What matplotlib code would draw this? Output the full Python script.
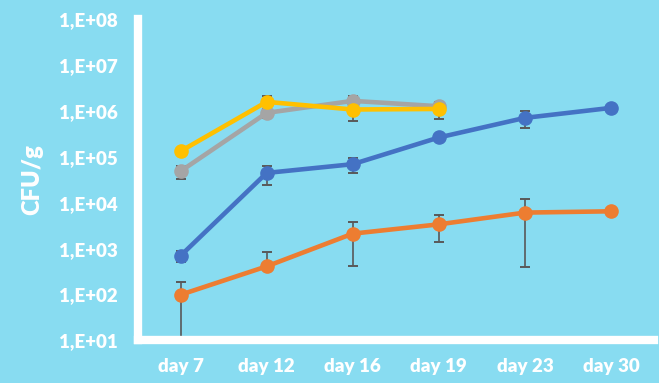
import numpy as np
import matplotlib.pyplot as plt

# sampling days and CFU/g counts per series (means and error)
days = ["day 7", "day 12", "day 16", "day 19", "day 23", "day 30"]

blue_vals = [700, 44500, 69000, 263000, 703000, 1160000]
blue_err = [180, 20000, 25000, 0, 290000, 0]

orange_vals = [99, 411, 2120, 3380, 6090, 6500]
orange_err = [89, 450, 1700, 1970, 5700, 0]

gray_vals = [48400, 903000, 1650000, 1260000]
gray_err = [15500, 200000, 440000, 300000]

yellow_vals = [132000, 1570000, 1070000, 1100000]
yellow_err = [0, 500000, 470000, 430000]

ytick_vals = [1e1, 1e2, 1e3, 1e4, 1e5, 1e6, 1e7, 1e8]
ytick_labels = ["1,E+01", "1,E+02", "1,E+03", "1,E+04",
                "1,E+05", "1,E+06", "1,E+07", "1,E+08"]

bg = "#88dcf1"
series = [
    (blue_vals, blue_err, "#4472c4"),
    (orange_vals, orange_err, "#ed7d31"),
    (gray_vals, gray_err, "#a5a5a5"),
    (yellow_vals, yellow_err, "#ffc000"),
]

plt.rcParams["font.family"] = ["Lato", "DejaVu Sans"]

fig = plt.figure(figsize=(6.59, 3.83), dpi=100)
fig.patch.set_facecolor(bg)
ax = fig.add_axes([0.2087, 0.111, 0.7837, 0.8394])
ax.set_facecolor(bg)
ax.set_yscale("log")

for i, (vals, err, color) in enumerate(series):
    vals = np.array(vals, dtype=float)
    err = np.array(err, dtype=float)
    x = np.arange(len(vals))
    # lower bars that would go below zero are not drawn on a log axis
    lower = np.where(err < vals, err, 0)
    ax.errorbar(x, vals, yerr=[lower, err], fmt="none", ecolor="#595959",
                elinewidth=1.2, capsize=3.6, capthick=1.4, zorder=1)
    ax.plot(x, vals, color=color, lw=3.3, marker="o", ms=9.5,
            solid_capstyle="round", zorder=2 + i)

ax.set_xlim(-0.5, 5.5)
ax.set_ylim(1e1, 1e8)
ax.set_xticks(range(len(days)))
ax.set_xticklabels(days)
ax.set_yticks(ytick_vals)
ax.set_yticklabels(ytick_labels)
ax.minorticks_off()
ax.tick_params(axis="both", length=0, colors="white", labelsize=13.5)
ax.tick_params(axis="y", pad=14.5)
ax.tick_params(axis="x", pad=12.5)
for lab in ax.get_xticklabels() + ax.get_yticklabels():
    lab.set_fontweight("heavy")

for side in ["top", "right"]:
    ax.spines[side].set_visible(False)
for side in ["left", "bottom"]:
    ax.spines[side].set_color("white")
    ax.spines[side].set_linewidth(6)

ax.set_ylabel("CFU/g", color="white", fontsize=17, fontweight="heavy",
              labelpad=11)

fig.savefig("out.png", dpi=100, facecolor=bg)
